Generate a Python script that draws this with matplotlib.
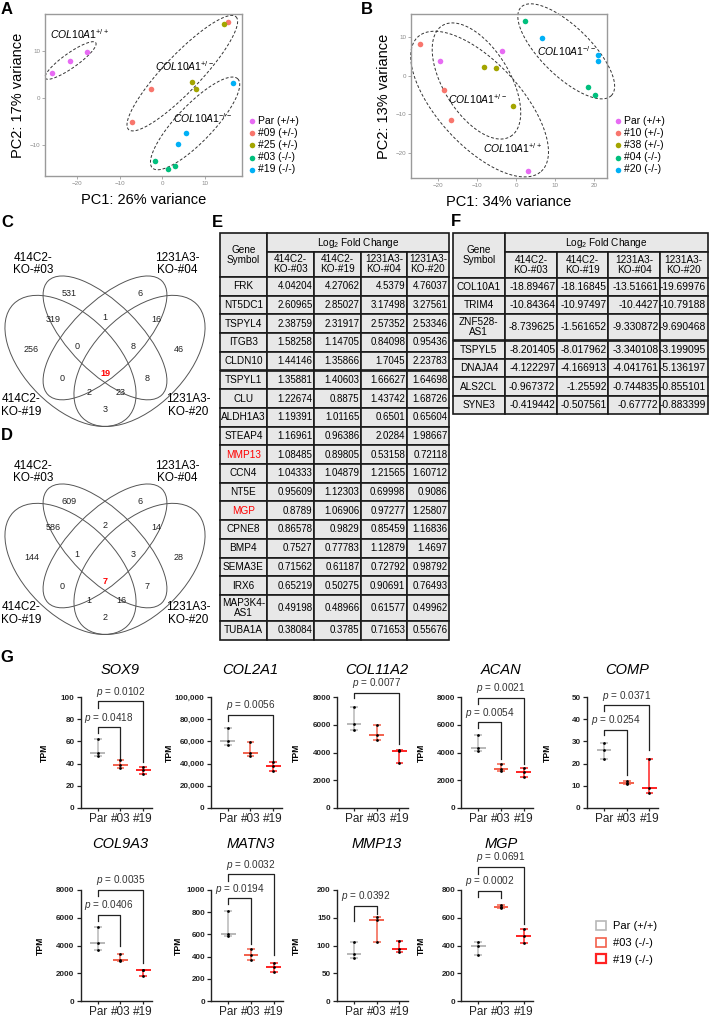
import numpy as np
import matplotlib
matplotlib.use('Agg')
import matplotlib.pyplot as plt
from matplotlib.patches import Ellipse, Rectangle, Patch

plt.rcParams['font.family'] = ['Liberation Sans', 'DejaVu Sans']
plt.rcParams['mathtext.fontset'] = 'custom'
plt.rcParams['mathtext.rm'] = 'Liberation Sans'
plt.rcParams['mathtext.it'] = 'Liberation Sans:italic'
plt.rcParams['mathtext.bf'] = 'Liberation Sans:bold'

W, H = 709, 1019

# ---------------- A / B : PCA ----------------
pca_colors = ['#E76BF3', '#F8766D', '#A3A500', '#00BF7D', '#00B0F6']
a_labels = ['Par (+/+)', '#09 (+/-)', '#25 (+/-)', '#03 (-/-)', '#19 (-/-)']
a_pc1 = [[-25.8, -21.7, -17.6], [15.3, -2.7, -7.1], [14.5, 7.0, 7.8], [-1.7, 1.3, 3.1], [16.7, 5.6, 3.8]]
a_pc2 = [[5.4, 7.9, 9.8], [16.3, 2.0, -5.2], [15.8, 3.5, 2.0], [-13.4, -15.1, -14.4], [3.2, -7.4, -9.8]]
b_labels = ['Par (+/+)', '#10 (+/-)', '#38 (+/-)', '#04 (-/-)', '#20 (-/-)']
b_pc1 = [[-3.6, -19.4, 3.1], [-24.6, -18.3, -16.6], [-8.1, -5.2, -0.9], [2.3, 18.3, 20.2], [6.5, 20.9, 20.9]]
b_pc2 = [[6.4, 3.7, -24.7], [8.1, -3.8, -11.5], [2.2, 2.0, -7.9], [14.3, -2.9, -5.0], [9.8, 5.4, 3.7]]

# ellipses: centre x, centre y, semi-axis 1 (dx, dy), semi-axis 2 (dx, dy)
a_ellipses = [(-21.5, 8.0, 5.9, 3.8, 1.0, -1.27),
              (4.7, 5.3, 12.6, 12.0, 3.1, -2.7),
              (7.7, -5.4, 10.0, 9.5, 3.1, -2.7)]
b_ellipses = [(-10.1, -1.4, 8.7, -14.4, 7.2, 4.5),
              (-9.3, -7.4, 15.7, -17.5, 7.9, 7.2),
              (12.8, 6.3, 11.5, -11.5, 4.5, 4.5)]
a_geno = [(-26.4, 13.6, '+/+'), (-1.6, 6.7, '+/-'), (2.6, -4.2, '-/-')]
b_geno = [(5.4, 6.3, '-/-'), (-17.3, -6.1, '+/-'), (-8.4, -18.9, '+/+')]

# ---------------- C / D : Venn ----------------
c_counts = [531, 6, 319, 1, 16, 256, 0, 8, 46, 0, 19, 8, 2, 23, 3]
d_counts = [609, 6, 586, 2, 14, 144, 1, 3, 28, 0, 7, 7, 1, 16, 2]
venn_sets = ['414C2-\nKO-#03', '1231A3-\nKO-#04', '414C2-\nKO-#19', '1231A3-\nKO-#20']

# ---------------- E / F : tables ----------------
lfc_cols = ['414C2-\nKO-#03', '414C2-\nKO-#19', '1231A3-\nKO-#04', '1231A3-\nKO-#20']
e_genes = ['FRK', 'NT5DC1', 'TSPYL4', 'ITGB3', 'CLDN10', 'TSPYL1', 'CLU', 'ALDH1A3', 'STEAP4',
           'MMP13', 'CCN4', 'NT5E', 'MGP', 'CPNE8', 'BMP4', 'SEMA3E', 'IRX6', 'MAP3K4-\nAS1', 'TUBA1A']
e_ko03 = [4.04204, 2.60965, 2.38759, 1.58258, 1.44146, 1.35881, 1.22674, 1.19391, 1.16961,
          1.08485, 1.04333, 0.95609, 0.8789, 0.86578, 0.7527, 0.71562, 0.65219, 0.49198, 0.38084]
e_ko19 = [4.27062, 2.85027, 2.31917, 1.14705, 1.35866, 1.40603, 0.8875, 1.01165, 0.96386,
          0.89805, 1.04879, 1.12303, 1.06906, 0.9829, 0.77783, 0.61187, 0.50275, 0.48966, 0.3785]
e_ko04 = [4.5379, 3.17498, 2.57352, 0.84098, 1.7045, 1.66627, 1.43742, 0.6501, 2.0284,
          0.53158, 1.21565, 0.69998, 0.97277, 0.85459, 1.12879, 0.72792, 0.90691, 0.61577, 0.71653]
e_ko20 = [4.76037, 3.27561, 2.53346, 0.95436, 2.23783, 1.64698, 1.68726, 0.65604, 1.98667,
          0.72118, 1.60712, 0.9086, 1.25807, 1.16836, 1.4697, 0.98792, 0.76493, 0.49962, 0.55676]
f_genes = ['COL10A1', 'TRIM4', 'ZNF528-\nAS1', 'TSPYL5', 'DNAJA4', 'ALS2CL', 'SYNE3']
f_ko03 = [-18.89467, -10.84364, -8.739625, -8.201405, -4.122297, -0.967372, -0.419442]
f_ko19 = [-18.16845, -10.97497, -1.561652, -8.017962, -4.166913, -1.25592, -0.507561]
f_ko04 = [-13.51661, -10.4427, -9.330872, -3.340108, -4.041761, -0.744835, -0.67772]
f_ko20 = [-19.69976, -10.79188, -9.690468, -3.199095, -5.136197, -0.855101, -0.883399]
red_genes = ['MMP13', 'MGP']

# ---------------- G : TPM ----------------
g_genes = ['SOX9', 'COL2A1', 'COL11A2', 'ACAN', 'COMP', 'COL9A3', 'MATN3', 'MMP13', 'MGP']
g_groups = ['Par', '#03', '#19']
g_par = [[62, 50, 47], [72000, 60000, 56500], [7300, 6050, 5650], [5250, 4350, 4100], [29.5, 26, 22],
         [5320, 4190, 3650], [810, 600, 582], [107, 84, 77], [425, 400, 335]]
g_ko03 = [[43, 39, 36], [59500, 50000, 46500], [6000, 5250, 4900], [3150, 2780, 2700], [12.0, 11.3, 10.9],
          [3400, 2950, 2880], [470, 410, 365], [152, 146, 106], [695, 678, 672]]
g_ko19 = [[37, 34.5, 30.5], [41000, 38000, 33000], [4150, 4100, 3250], [2850, 2600, 2200], [22.2, 8.9, 6.8],
          [2250, 2200, 1820], [340, 305, 265], [108, 94, 88], [520, 472, 420]]
g_ymax = [100, 100000, 8000, 8000, 50, 8000, 1000, 200, 800]
g_ystep = [20, 20000, 2000, 2000, 10, 2000, 200, 50, 200]
# (target group, p value, bracket height, left leg end, right leg end)
g_tests = [[(1, '0.0418', 73, 67.5, 44), (2, '0.0102', 96, 90, 41)],
           [(2, '0.0056', 84000, 78000, 42500)],
           [(2, '0.0077', 8300, 7900, 4600)],
           [(1, '0.0054', 6200, 5800, 3560), (2, '0.0021', 7960, 7480, 3150)],
           [(1, '0.0254', 35.3, 32.7, 15), (2, '0.0371', 46.2, 43.5, 26.3)],
           [(1, '0.0406', 6230, 5800, 3950), (2, '0.0035', 8020, 7550, 2750)],
           [(1, '0.0194', 925, 874, 515), (2, '0.0032', 1144, 1084, 410)],
           [(1, '0.0392', 172, 145, 156)],
           [(1, '0.0002', 795, 747, 742), (2, '0.0691', 968, 915, 556)]]
g_legend = ['Par (+/+)', '#03 (-/-)', '#19 (-/-)']
g_colors = ['#b8b8b8', '#f2604c', '#ff2222']

fig = plt.figure(figsize=(W / 100, H / 100), dpi=100)


def px_axes(left, top, width, height):
    return fig.add_axes([left / W, 1 - (top + height) / H, width / W, height / H])


def pca_panel(box, pc1, pc2, labels, ells, geno, xlim, ylim, xt, yt, xlabel, ylabel, leg_xy):
    ax = px_axes(*box)
    for xs, ys, c, lab in zip(pc1, pc2, pca_colors, labels):
        ax.scatter(xs, ys, s=16, color=c, label=lab, linewidths=0, zorder=3)
    t = np.linspace(0, 2 * np.pi, 200)
    for cx, cy, ux, uy, vx, vy in ells:
        ax.plot(cx + ux * np.cos(t) + vx * np.sin(t), cy + uy * np.cos(t) + vy * np.sin(t),
                ls=(0, (3, 2)), color='#333333', lw=0.7, clip_on=False)
    for x, y, sup in geno:
        ax.text(x, y, r'$\mathit{COL10A1}^{' + sup + '}$', fontsize=7.5, va='center', ha='left')
    ax.set_xlim(*xlim)
    ax.set_ylim(*ylim)
    ax.set_xticks(xt)
    ax.set_yticks(yt)
    ax.tick_params(labelsize=4.5, colors='#8a8a8a', length=2, width=0.5, pad=1.5)
    for s in ax.spines.values():
        s.set_color('#9a9a9a')
        s.set_linewidth(1.0)
    ax.set_xlabel(xlabel, fontsize=10.5, labelpad=5)
    ax.set_ylabel(ylabel, fontsize=10.5, labelpad=3)
    ax.legend(loc='upper left', bbox_to_anchor=(leg_xy[0] / W, 1 - leg_xy[1] / H),
              bbox_transform=fig.transFigure, frameon=False, fontsize=7.5, handletextpad=0.1,
              labelspacing=0.2, borderaxespad=0, borderpad=0, handlelength=1.0, scatterpoints=1)


pca_panel((45, 14, 197, 162), a_pc1, a_pc2, a_labels, a_ellipses, a_geno, (-27.5, 18.7), (-16.6, 17.9),
          [-20, -10, 0, 10], [-10, 0, 10], 'PC1: 26% variance', 'PC2: 17% variance', (247, 116))
pca_panel((411, 14, 196, 164), b_pc1, b_pc2, b_labels, b_ellipses, b_geno, (-26.8, 23.2), (-26.6, 16.0),
          [-20, -10, 0, 10, 20], [-20, -10, 0, 10], 'PC1: 34% variance', 'PC2: 13% variance', (613, 116))

# ---------------- G ----------------
CAT = 22.7
g_par_x = [97.7, 227.7, 354, 478.3, 604, 97.7, 228.3, 354, 478.3]
g_ylab = [-0.44, -0.51, -0.5, -0.5, -0.49, -0.5, -0.4, -0.5, -0.5]
for i, gene in enumerate(g_genes):
    first_row = i < 5
    top, bot = (697, 808) if first_row else (890, 1001)
    ax = px_axes(g_par_x[i] - 0.75 * CAT, top, 3.15 * CAT, bot - top)
    for k, (vals, col) in enumerate(zip([g_par[i], g_ko03[i], g_ko19[i]], g_colors)):
        lo, med, hi = min(vals), np.median(vals), max(vals)
        ax.vlines(k, lo, hi, color=col, lw=1.1, zorder=2)
        ax.hlines([lo, hi], k - 0.17, k + 0.17, color=col, lw=1.1, zorder=2)
        ax.hlines(med, k - 0.33, k + 0.33, color=col, lw=1.4, zorder=2)
        ax.scatter([k] * len(vals), vals, s=4, color='black', linewidths=0, zorder=3)
    for tgt, p, yb, yl, yr in g_tests[i]:
        ax.plot([0, 0, tgt, tgt], [yl, yb, yb, yr], color='#222222', lw=0.9, clip_on=False)
        ax.annotate(r'$\mathit{p}$ = ' + p, xy=(tgt / 2, yb), xytext=(0, 6.8), textcoords='offset points',
                    ha='center', va='center', fontsize=7.2, color='#333333', annotation_clip=False)
    ymax = g_ymax[i]
    ax.set_ylim(0, ymax)
    ax.set_xlim(-0.75, 2.4)
    ticks = np.arange(0, ymax + 1, g_ystep[i])
    ax.set_yticks(ticks)
    ax.set_yticklabels([f'{int(v):,}' if v >= 10000 else str(int(v)) for v in ticks],
                       fontsize=5.8, fontweight='bold')
    ax.set_xticks(range(3))
    ax.set_xticklabels(g_groups, fontsize=8.5)
    ax.tick_params(axis='y', length=3, width=0.9, pad=1.5, colors='#222222')
    ax.tick_params(axis='x', length=2.5, width=0.9, pad=1, colors='#222222')
    ax.spines['top'].set_visible(False)
    ax.spines['right'].set_visible(False)
    for s in ('left', 'bottom'):
        ax.spines[s].set_linewidth(1.0)
        ax.spines[s].set_color('#222222')
    ax.set_ylabel('TPM', fontsize=6.2, fontweight='bold')
    ax.yaxis.set_label_coords(g_ylab[i], 0.5)
    ax.patch.set_alpha(0)
    title_dy = 27 if first_row else 46
    ax.annotate(gene, xy=(1, 1), xycoords=('data', 'axes fraction'), xytext=(0, title_dy * 0.72),
                textcoords='offset points', ha='center', va='center', fontsize=10.5, style='italic',
                annotation_clip=False)

# ---------------- overlay: letters, Venn, tables, legend ----------------
ov = fig.add_axes([0, 0, 1, 1])
ov.set_xlim(0, W)
ov.set_ylim(H, 0)
ov.axis('off')

for lab, x, y in [('A', 7, 9), ('B', 367, 9), ('C', 7, 222), ('D', 7, 435), ('E', 217, 222),
                  ('F', 456, 221), ('G', 7, 657)]:
    ov.text(x, y, lab, fontsize=12, fontweight='bold', ha='center', va='center')

# Venn layout (pixels, panel C; panel D shifted down)
venn_ell = [(70.5, 360.9, 80.5, 46, 45), (105, 337.9, 80.5, 34.5, 45),
            (105, 337.9, 80.5, 34.5, -45), (139.5, 360.9, 80.5, 46, -45)]
venn_pos = [(69.5, 293.5), (140.5, 293.5), (53.5, 319), (105, 317), (156.5, 319), (31.5, 350),
            (77, 346.5), (133, 346.5), (178.5, 350), (62.5, 378.5), (105, 374), (147.5, 378.5),
            (89, 392.5), (121, 392.5), (105, 409)]
venn_set_pos = [(33.5, 264), (177, 264), (21.5, 405.5), (188, 405.5)]
for counts, dy in [(c_counts, 0), (d_counts, 208)]:
    for cx, cy, a, b, ang in venn_ell:
        ov.add_patch(Ellipse((cx, cy + dy), 2 * a, 2 * b, angle=ang, fill=False, edgecolor='#555555', lw=0.7))
    for k, (n, (x, y)) in enumerate(zip(counts, venn_pos)):
        red = k == 10
        ov.text(x, y + dy, str(n), fontsize=6.5, ha='center', va='center',
                color='red' if red else '#222222', fontweight='bold' if red else 'normal')
    for name, (x, y) in zip(venn_sets, venn_set_pos):
        ov.text(x, y + dy, name, fontsize=8.5, ha='center', va='center', linespacing=1.05)


def draw_table(x_edges, top, h1, h2, row_h, tall_h, genes, cols, fs_val):
    face, edge, lw = '#e8e8e8', '#1a1a1a', 1.2
    full_h = h1 + h2
    ov.add_patch(Rectangle((x_edges[0], top), x_edges[1] - x_edges[0], full_h, facecolor=face, edgecolor=edge, lw=lw))
    ov.text((x_edges[0] + x_edges[1]) / 2, top + full_h / 2, 'Gene\nSymbol', fontsize=7.2, ha='center',
            va='center', linespacing=1.05)
    ov.add_patch(Rectangle((x_edges[1], top), x_edges[-1] - x_edges[1], h1, facecolor=face, edgecolor=edge, lw=lw))
    ov.text((x_edges[1] + x_edges[-1]) / 2, top + h1 / 2, r'Log$_{\mathrm{2}}$ Fold Change', fontsize=7.2,
            ha='center', va='center')
    for j, name in enumerate(lfc_cols):
        x0, x1 = x_edges[j + 1], x_edges[j + 2]
        ov.add_patch(Rectangle((x0, top + h1), x1 - x0, h2, facecolor=face, edgecolor=edge, lw=lw))
        ov.text((x0 + x1) / 2, top + h1 + h2 / 2, name, fontsize=7.2, ha='center', va='center', linespacing=1.0)
    y = top + full_h
    for r, gene in enumerate(genes):
        h = tall_h if '\n' in gene else row_h
        ov.add_patch(Rectangle((x_edges[0], y), x_edges[1] - x_edges[0], h, facecolor=face, edgecolor=edge, lw=lw))
        ov.text((x_edges[0] + x_edges[1]) / 2, y + h / 2, gene, fontsize=7.2, ha='center', va='center',
                linespacing=1.0, color='red' if gene in red_genes else 'black')
        for j, col in enumerate(cols):
            x0, x1 = x_edges[j + 1], x_edges[j + 2]
            ov.add_patch(Rectangle((x0, y), x1 - x0, h, facecolor=face, edgecolor=edge, lw=lw))
            ov.text(x1 - 1.5, y + h / 2, str(col[r]), fontsize=fs_val, ha='right', va='center')
        y += h


draw_table([220, 266.7, 314, 361, 406.7, 449], 233, 19, 25, 18.7, 26, e_genes,
           [e_ko03, e_ko19, e_ko04, e_ko20], 7.0)
draw_table([452.7, 505, 556.7, 608.3, 660, 707.5], 233, 19, 25.5, 18.4, 26.2, f_genes,
           [f_ko03, f_ko19, f_ko04, f_ko20], 7.4)

handles = [Patch(facecolor='none', edgecolor=c, lw=w) for c, w in zip(g_colors, [1.2, 1.2, 1.6])]
ov.legend(handles, g_legend, loc='upper left', bbox_to_anchor=(596 / W, 1 - 921 / H),
          bbox_transform=fig.transFigure, frameon=False, fontsize=8, handlelength=0.9, handleheight=0.9,
          handletextpad=0.6, labelspacing=0.55, borderpad=0, borderaxespad=0)

fig.savefig('out.png', dpi=100)
